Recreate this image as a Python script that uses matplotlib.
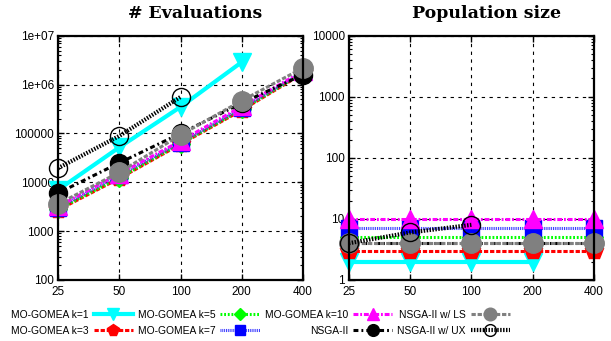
import numpy as np
import matplotlib
matplotlib.use('Agg')
import matplotlib.pyplot as plt
from matplotlib.ticker import FixedLocator, FuncFormatter, LogLocator, NullLocator, NullFormatter

plt.rcParams['font.family'] = ['Liberation Sans', 'DejaVu Sans']

# problem sizes
sizes = [25, 50, 100, 200, 400]

# number of evaluations
evals_k1 = [7000, 52000, 350000, 2.9e6]
evals_k3 = [2700, 12000, 60000, 300000, 1.7e6]
evals_k5 = [2800, 12500, 62000, 310000, 1.75e6]
evals_k7 = [3000, 14000, 65000, 330000, 1.8e6]
evals_k10 = [3200, 15000, 70000, 360000, 1.9e6]
evals_nsga = [6000, 25000, 100000, 420000, 1.6e6]
evals_ls = [3600, 16000, 93000, 470000, 2.2e6]
evals_ux = [19500, 89000, 560000]

# population size
pop_k1 = [2, 2, 2, 2]
pop_k3 = [3, 3, 3, 3, 3]
pop_k5 = [5, 5, 5, 5, 5]
pop_k7 = [7, 7, 7, 7, 7]
pop_k10 = [10, 10, 10, 10, 10]
pop_nsga = [4, 4, 4, 4, 4]
pop_ls = [4, 4, 4, 4, 4]
pop_ux = [4, 6, 8]

labels = ['MO-GOMEA k=1', 'MO-GOMEA k=3', 'MO-GOMEA k=5', 'MO-GOMEA k=7',
          'MO-GOMEA k=10', 'NSGA-II', 'NSGA-II w/ LS', 'NSGA-II w/ UX']

styles = [
    dict(color='cyan', ls='-', lw=3.0, marker='v', ms=13, mfc='cyan', mec='cyan'),
    dict(color='red', ls=(0, (1.4, 0.6)), lw=2.2, marker='p', ms=13, mfc='red', mec='red'),
    dict(color='lime', ls=(0, (0.6, 0.6)), lw=2.2, marker='D', ms=9, mfc='lime', mec='lime'),
    dict(color='#3030ff', ls=(0, (0.3, 0.3)), lw=2.2, marker='s', ms=12, mfc='blue', mec='blue'),
    dict(color='magenta', ls=(0, (1.6, 0.6, 0.6, 0.6)), lw=2.2, marker='^', ms=13, mfc='magenta', mec='magenta'),
    dict(color='black', ls=(0, (1.6, 1.0, 0.6, 1.0)), lw=2.2, marker='o', ms=13, mfc='black', mec='black'),
    dict(color='gray', ls=(0, (1.4, 0.6)), lw=2.2, marker='o', ms=14, mfc='gray', mec='gray'),
    dict(color='black', ls=(0, (0.35, 0.35)), lw=3, marker='o', ms=13, mfc='none', mec='black', mew=1),
]

evals = [evals_k1, evals_k3, evals_k5, evals_k7, evals_k10, evals_nsga, evals_ls, evals_ux]
pops = [pop_k1, pop_k3, pop_k5, pop_k7, pop_k10, pop_nsga, pop_ls, pop_ux]

fig = plt.figure(figsize=(6.11, 3.41), dpi=100)
ax1 = fig.add_axes([0.095, 0.179, 0.401, 0.716])
ax2 = fig.add_axes([0.571, 0.179, 0.401, 0.716])

handles = []
for ys, st, lab in zip(evals, styles, labels):
    h, = ax1.plot(sizes[:len(ys)], ys, label=lab, clip_on=False, **st)
    handles.append(h)
for ys, st in zip(pops, styles):
    ax2.plot(sizes[:len(ys)], ys, clip_on=False, **st)


def fmt_left(v, pos):
    if v >= 1e6:
        return '1e+%02d' % int(round(np.log10(v)))
    return '%d' % v


for ax, ylim, yticks in [(ax1, (100, 1e7), [100, 1000, 1e4, 1e5, 1e6, 1e7]),
                         (ax2, (1, 10000), [1, 10, 100, 1000, 10000])]:
    ax.set_xscale('log', base=2)
    ax.set_yscale('log')
    ax.set_xlim(25, 400)
    ax.set_ylim(*ylim)
    ax.xaxis.set_major_locator(FixedLocator(sizes))
    ax.xaxis.set_major_formatter(FuncFormatter(lambda v, p: '%d' % v))
    ax.xaxis.set_minor_locator(NullLocator())
    ax.yaxis.set_major_locator(FixedLocator(yticks))
    ax.yaxis.set_major_formatter(FuncFormatter(fmt_left))
    ax.yaxis.set_minor_locator(LogLocator(base=10, subs=np.arange(2, 10)))
    ax.yaxis.set_minor_formatter(NullFormatter())
    ax.tick_params(which='both', direction='in', top=True, right=True, labelsize=8.5)
    ax.tick_params(axis='y', pad=3)
    ax.tick_params(axis='x', pad=4)
    ax.tick_params(which='major', length=4, width=1)
    ax.tick_params(which='minor', length=2, width=0.8)
    ax.grid(True, which='major', color='black', ls=(0, (3, 4)), lw=0.8)
    for sp in ax.spines.values():
        sp.set_linewidth(1.6)

ax1.set_title('# Evaluations', family='DejaVu Serif', fontweight='bold',
              fontsize=12.5, x=0.56, pad=13)
ax2.set_title('Population size', family='DejaVu Serif', fontweight='bold',
              fontsize=12.5, x=0.56, pad=13)

fig.legend(handles, labels,
           loc='lower left', bbox_to_anchor=(0.005, -0.008), ncol=4, markerfirst=False,
           frameon=False, fontsize=7.4, handlelength=3.8, markerscale=0.65,
           columnspacing=0.5, handletextpad=0.5, labelspacing=0.6, borderpad=0.25)

fig.savefig('out.png', dpi=100)
